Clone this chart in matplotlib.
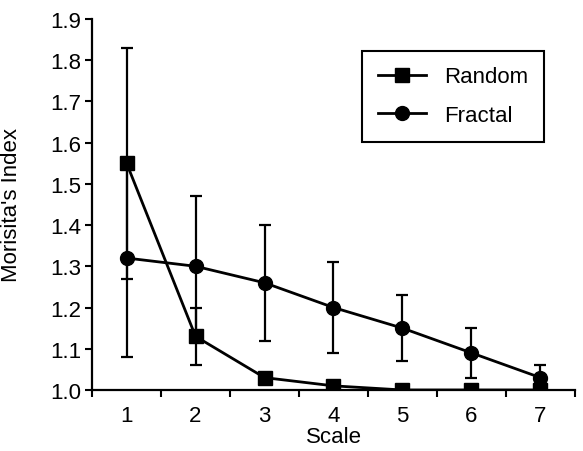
import matplotlib
matplotlib.use("Agg")
import matplotlib.pyplot as plt
from matplotlib.lines import Line2D

scales = [1, 2, 3, 4, 5, 6, 7]
random_vals = [1.55, 1.13, 1.03, 1.01, 1.00, 1.00, 1.00]
random_err = [0.28, 0.07, 0.01, 0.005, 0.005, 0.005, 0.005]
fractal_vals = [1.32, 1.30, 1.26, 1.20, 1.15, 1.09, 1.03]
fractal_err = [0.24, 0.17, 0.14, 0.11, 0.08, 0.06, 0.03]
yticks = [1.0, 1.1, 1.2, 1.3, 1.4, 1.5, 1.6, 1.7, 1.8, 1.9]

plt.rcParams['font.family'] = ['Liberation Sans', 'DejaVu Sans']
FS = 16

fig = plt.figure(figsize=(5.83, 4.52), dpi=100)
ax = fig.add_axes([0.158, 0.135, 0.828, 0.821])

ax.errorbar(scales, fractal_vals, yerr=fractal_err, color='black', lw=2,
            marker='o', markersize=10, capsize=4, elinewidth=1.6, capthick=1.6,
            zorder=3)
ax.errorbar(scales, random_vals, yerr=random_err, color='black', lw=2,
            marker='s', markersize=10, capsize=4, elinewidth=1.6, capthick=1.6,
            zorder=4)

ax.set_xlim(0.5, 7.5)
ax.set_ylim(1.0, 1.9)
ax.set_yticks(yticks)
ax.set_yticklabels([f"{v:.1f}" for v in yticks])
ax.set_xticks([x + 0.5 for x in [0] + scales])
ax.set_xticklabels([])
for s in scales:
    ax.text(s, -0.04, str(s), transform=ax.get_xaxis_transform(),
            ha='center', va='top', fontsize=FS)

ax.spines['top'].set_visible(False)
ax.spines['right'].set_visible(False)
ax.spines['left'].set_linewidth(1.6)
ax.spines['bottom'].set_linewidth(1.6)
ax.tick_params(axis='both', direction='out', length=5, width=1.5, labelsize=FS, pad=3)

ax.set_xlabel('Scale', fontsize=FS)
ax.xaxis.set_label_coords(0.5, -0.098)
ax.set_ylabel("Morisita's Index", fontsize=FS)
ax.yaxis.set_label_coords(-0.145, 0.5)

handles = [
    Line2D([], [], color='black', lw=2, marker='s', markersize=10),
    Line2D([], [], color='black', lw=2, marker='o', markersize=10),
]
leg = ax.legend(handles, ['Random', 'Fractal'], loc='upper right',
                bbox_to_anchor=(0.936, 0.914), borderaxespad=0, fontsize=FS,
                frameon=True, fancybox=False, edgecolor='black', framealpha=1,
                handlelength=2.2, borderpad=0.7, labelspacing=0.8, handletextpad=0.8)
leg.get_frame().set_linewidth(1.5)

fig.savefig('out.png', dpi=100)
